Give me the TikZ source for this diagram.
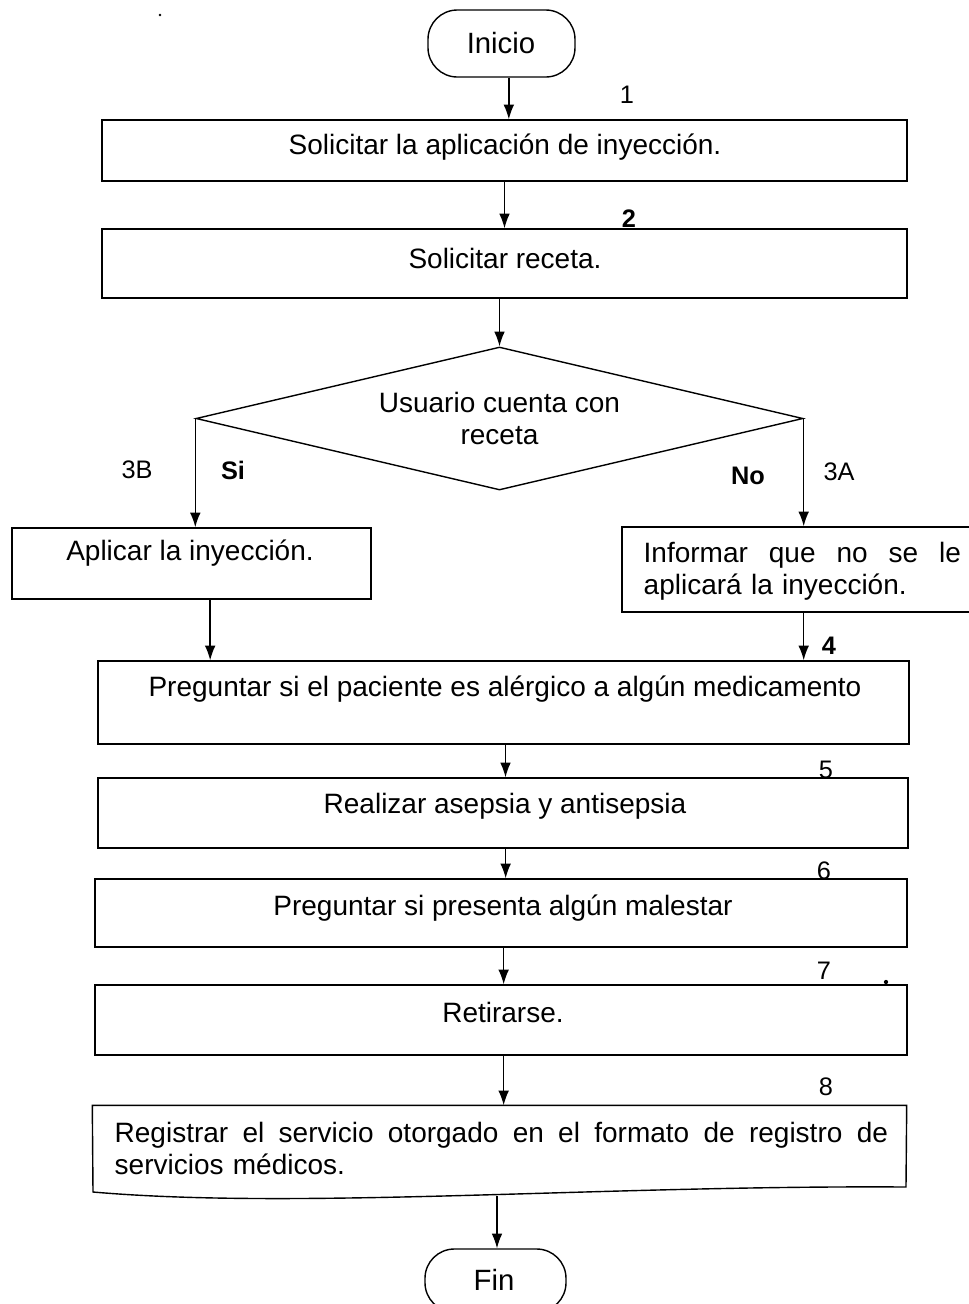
\documentclass[tikz,border=0pt]{standalone}
\usepackage{fontspec}
\setmainfont{Liberation Sans}
\usetikzlibrary{arrows.meta,fit,shapes.geometric}
\begin{document}
\begin{tikzpicture}[x=0.75pt,y=-0.75pt,
  line width=1.05pt,
  box/.style={draw, rectangle, inner sep=0pt},
  term/.style={draw, rectangle, rounded corners=22pt, inner sep=0pt},
  ttxt/.style={inner sep=0pt, font=\fontsize{22pt}{26pt}\selectfont},
  txt/.style={inner sep=0pt, font=\fontsize{21pt}{24pt}\selectfont},
  para/.style={txt, align=left, anchor=west},
  num/.style={inner sep=0pt, font=\fontsize{19pt}{21pt}\selectfont},
  bnum/.style={inner sep=0pt, font=\fontsize{19pt}{21pt}\selectfont\bfseries},
  arr/.style={-{Latex[length=11pt,width=8pt]}},
]
\useasboundingbox (0,0) rectangle (969,1304);

% start terminal
\node[term, fit={(428,10)(575,77)}] (ini) {};
\node[ttxt] (tini) at (501,43) {Inicio};

% process boxes
\node[box, fit={(102,120)(907,181)}] (b1) {};
\node[txt] (t1) at (505,147) {Solicitar la aplicación de inyección.};

\node[box, fit={(102,229)(907,298)}] (b2) {};
\node[txt] (t2) at (505,258) {Solicitar receta.};

% decision
\node[draw, diamond, aspect=4.24, minimum width=455.25pt, minimum height=107.25pt,
      txt, align=center] (d) at (499.5,418.5) {Usuario cuenta con\\receta};

\node[box, fit={(12,528)(371,599)}] (ap) {};
\node[txt] (tap) at (190,553) {Aplicar la inyección.};

\node[box, fit={(622,527)(980,612)}] (inf) {};
\node[para, text width=238pt] (tinf) at (643,571)
  {Informar\hfill que\hfill no\hfill se\hfill le\\aplicará la inyección.};

\node[box, fit={(98,661)(909,744)}] (b4) {};
\node[txt] (t4) at (505,689) {Preguntar si el paciente es alérgico a algún medicamento};

\node[box, fit={(98,778)(908,848)}] (b5) {};
\node[txt] (t5) at (505,806) {Realizar asepsia y antisepsia};

\node[box, fit={(95,879)(907,947)}] (b6) {};
\node[txt] (t6) at (503,908) {Preguntar si presenta algún malestar};

\node[box, fit={(95,985)(907,1055)}] (b7) {};
\node[txt] (t7) at (503,1012) {Retirarse.};

% document shape with wavy lower edge
\node[inner sep=0pt, fit={(93,1106)(906,1190)}] (b8) {};
\draw (b8.north west) -- (b8.north east) -- (906,1187)
  .. controls (600,1185) and (300,1210) .. (93,1192) -- cycle;
\coordinate (b8out) at (497,1196);
\node[para, text width=580pt] (t8) at (114,1148.5)
  {Registrar\hfill el\hfill servicio\hfill otorgado\hfill en\hfill el\hfill formato\hfill de\hfill registro\hfill de\\servicios médicos.};

% end terminal
\node[term, fit={(425,1249)(566,1312)}] (fin) {};
\node[ttxt] (tfin) at (494,1280) {Fin};

% connectors
\draw[arr] ([xshift=5.5pt]ini.south) -- ([xshift=5.5pt]ini.south |- b1.north);
\draw[arr] (b1.south) -- (b2.north);
\draw[arr] (d.north |- b2.south) -- (d.north);
\draw[arr] (d.west) -- (d.west |- ap.north);
\draw[arr] (d.east) -- (d.east |- inf.north);
\draw[arr] ([xshift=14pt]ap.south) -- ([xshift=14pt]ap.south |- b4.north);
\draw[arr] (d.east |- inf.south) -- (d.east |- b4.north);
\draw[arr] ([xshift=1.5pt]b4.south) -- ([xshift=1.5pt]b4.south |- b5.north);
\draw[arr] ([xshift=2pt]b5.south) -- ([xshift=2pt]b5.south |- b6.north);
\draw[arr] ([xshift=2pt]b6.south) -- ([xshift=2pt]b6.south |- b7.north);
\draw[arr] ([xshift=2pt]b7.south) -- ([xshift=2pt]b7.south |- b8.north);
\draw[arr] (b8out) -- (b8out |- fin.north);

% step numbers and branch labels
\node[num] (n1) at (627,95) {1};
\node[bnum] (n2) at (629,219) {2};
\node[num] (n3b) at (137,470) {3B};
\node[bnum] (si) at (233,470) {Si};
\node[bnum] (no) at (748,476) {No};
\node[num] (n3a) at (839,472) {3A};
\node[bnum] (n4) at (829,646) {4};
\node[num] (n5) at (826,770) {5};
\node[num] (n6) at (824,871) {6};
\node[num] (n7) at (824,971) {7};
\node[num] (n8) at (826,1087) {8};

% specks
\fill (160,15) circle (1pt);
\fill (886,982) circle (1.6pt);
\end{tikzpicture}
\end{document}
